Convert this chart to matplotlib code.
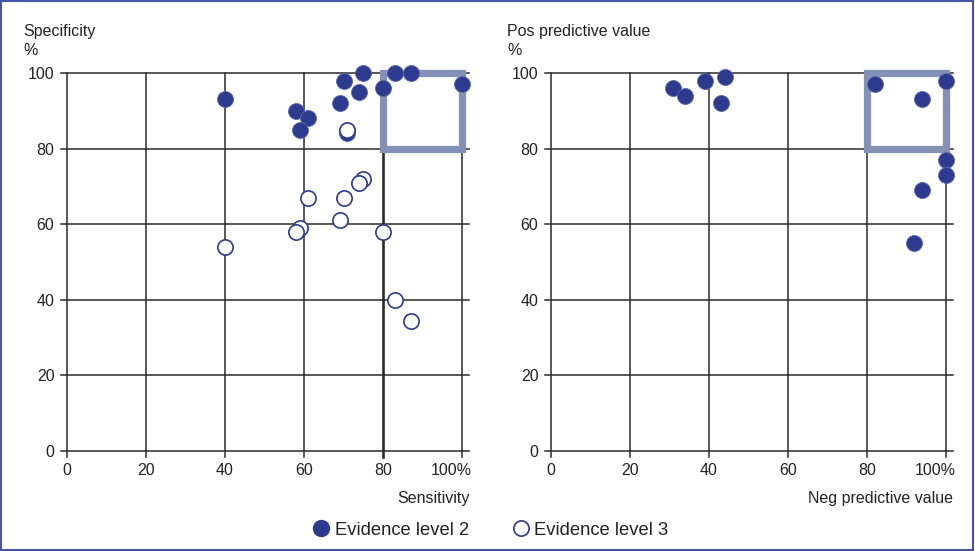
import matplotlib
matplotlib.use("Agg")
import matplotlib.pyplot as plt
from matplotlib.lines import Line2D
from matplotlib.patches import Rectangle
import matplotlib.transforms as mtrans

plt.rcParams['font.family'] = ['Liberation Sans', 'DejaVu Sans']

# left panel: sensitivity vs specificity
sens_l2 = [40, 58, 61, 59, 70, 75, 74, 69, 80, 83, 87, 100, 71]
spec_l2 = [93, 90, 88, 85, 98, 100, 95, 92, 96, 100, 100, 97, 84]
sens_l3 = [75, 74, 61, 70, 69, 59, 58, 40, 80, 83, 87, 71]
spec_l3 = [72, 71, 67, 67, 61, 59, 58, 54, 58, 40, 34.5, 85]

# right panel: neg vs pos predictive value
npv_l2 = [31, 34, 39, 44, 43, 82, 94, 100, 100, 100, 94, 92]
ppv_l2 = [96, 94, 98, 99, 92, 97, 93, 98, 77, 73, 69, 55]

ticks = [0, 20, 40, 60, 80, 100]
tick_labels = ["0", "20", "40", "60", "80", "100%"]

navy = "#2d3a8e"
box_col = "#8391b6"
grid_col = "#2a2a2a"
txt_col = "#222222"

fig = plt.figure(figsize=(9.75, 5.51), dpi=100)

def setup(ax, xlabel, ylabel, thick80=False):
    ax.set_xlim(0, 101.8)
    ax.set_ylim(0, 100)
    for s in ax.spines.values():
        s.set_visible(False)
    # grid lines, extended below the axis and left of it as ticks
    for t in ticks:
        lw = 1.9 if (thick80 and t == 80) else 1.1
        ax.plot([t, t], [-1.6, 100], color=grid_col, lw=lw, clip_on=False, zorder=1)
        ax.plot([-1.6, 101.8], [t, t], color=grid_col, lw=1.1, clip_on=False, zorder=1)
    ax.set_xticks(ticks)
    ax.set_yticks(ticks)
    ax.set_xticklabels(tick_labels, fontsize=11.5, color=txt_col)
    ax.set_yticklabels([str(t) for t in ticks], fontsize=11.5, color=txt_col)
    ax.tick_params(length=0, pad=9)
    lab = ax.get_xticklabels()[-1]
    lab.set_horizontalalignment('right')
    lab.set_transform(lab.get_transform() + mtrans.ScaledTranslation(7 / 72, 0, fig.dpi_scale_trans))
    ax.text(1.0, -0.105, xlabel, transform=ax.transAxes, ha='right', va='top',
            fontsize=11.5, color=txt_col)
    ax.text(-0.109, 1.04, ylabel + "\n%", transform=ax.transAxes, ha='left', va='bottom',
            fontsize=11.5, color=txt_col, linespacing=1.3)
    ax.add_patch(Rectangle((80, 80), 20, 20, fill=False, ec=box_col, lw=5.2,
                           zorder=2, clip_on=False))

ax1 = fig.add_axes([0.0687, 0.1815, 0.4125, 0.686])
setup(ax1, "Sensitivity", "Specificity", thick80=True)
ax1.plot(sens_l2, spec_l2, 'o', ms=11.5, mfc=navy, mec="#5d69b4", mew=0.6,
         clip_on=False, zorder=3)
ax1.plot(sens_l3, spec_l3, 'o', ms=11, mfc='white', mec=navy, mew=1.2,
         clip_on=False, zorder=4)

ax2 = fig.add_axes([0.5651, 0.1815, 0.4125, 0.686])
setup(ax2, "Neg predictive value", "Pos predictive value")
ax2.plot(npv_l2, ppv_l2, 'o', ms=11.5, mfc=navy, mec="#5d69b4", mew=0.6,
         clip_on=False, zorder=3)

handles = [
    Line2D([], [], marker='o', ls='', ms=11.5, mfc=navy, mec=navy, label="Evidence level 2"),
    Line2D([], [], marker='o', ls='', ms=11, mfc='white', mec=navy, mew=1.2, label="Evidence level 3"),
]
fig.legend(handles=handles, loc='center', bbox_to_anchor=(0.503, 0.038), ncol=2,
           frameon=False, fontsize=13.2, handletextpad=0.25, columnspacing=2.3,
           handlelength=1.0, labelcolor=txt_col)

fig.add_artist(Rectangle((0.001, 0.001), 0.997, 0.997, transform=fig.transFigure,
                         fill=False, ec="#4656a6", lw=1.5))

fig.savefig("out.png", dpi=100)
